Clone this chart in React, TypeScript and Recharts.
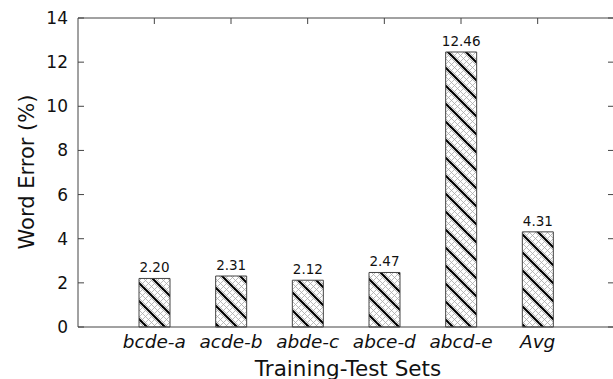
import React from 'react';
import {
  ComposedChart, Bar, Line, XAxis, YAxis, LabelList, Customized,
} from 'recharts';

const sets = ['bcde-a', 'acde-b', 'abde-c', 'abce-d', 'abcd-e', 'Avg'];
const wordError = [2.20, 2.31, 2.12, 2.47, 12.46, 4.31];
const yTicks = [0, 2, 4, 6, 8, 10, 12, 14];

const data = sets.map((name, i) => ({ name, value: wordError[i] }));

const FONT = 'DejaVu Sans, sans-serif';
const AXIS = '#444';
const noLabel = () => '';

// axis titles drawn straight into the svg
const Titles = () => (
  <g fontFamily={FONT} fontSize={21} fill="#111">
    <text x={27} y={172} textAnchor="middle" dominantBaseline="central" transform="rotate(-90 27 172)">
      Word Error (%)
    </text>
    <text x={348} y={376} textAnchor="middle" fontSize={21.5}>Training-Test Sets</text>
  </g>
);

export default function App() {
  return (
    <div style={{ position: 'fixed', left: 0, top: 0, width: 613, height: 379, overflow: 'hidden', background: '#fff' }}>
      <ComposedChart
        width={618}
        height={379}
        data={data}
        margin={{ top: 14, right: 0, bottom: 0, left: 0 }}
      >
        <defs>
          <pattern id="hatch" width={18} height={18} patternUnits="userSpaceOnUse">
            <rect width={18} height={18} fill="#fff" />
            <g stroke="#aaa" strokeWidth={0.8}>
              <line x1={0} y1={3} x2={15} y2={18} />
              <line x1={3} y1={0} x2={18} y2={15} />
              <line x1={0} y1={9} x2={9} y2={18} />
              <line x1={9} y1={0} x2={18} y2={9} />
              <line x1={0} y1={15} x2={3} y2={18} />
              <line x1={15} y1={0} x2={18} y2={3} />
              <line x1={0} y1={6} x2={6} y2={0} />
              <line x1={0} y1={12} x2={12} y2={0} />
              <line x1={0} y1={18} x2={18} y2={0} />
              <line x1={6} y1={18} x2={18} y2={6} />
              <line x1={12} y1={18} x2={18} y2={12} />
            </g>
            <g stroke="#000" strokeWidth={2.2}>
              <line x1={-1} y1={-1} x2={19} y2={19} />
              <line x1={-3} y1={15} x2={3} y2={21} />
              <line x1={15} y1={-3} x2={21} y2={3} />
            </g>
          </pattern>
        </defs>
        <XAxis
          xAxisId="bottom"
          dataKey="name"
          height={52}
          padding={{ left: 38, right: 38 }}
          axisLine={{ stroke: AXIS }}
          tickLine={false}
          tick={{ fontFamily: FONT, fontSize: 18.5, fontStyle: 'italic', fill: '#111' }}
          tickMargin={2}
          interval={0}
        />
        <XAxis
          xAxisId="top"
          orientation="top"
          dataKey="name"
          height={4}
          padding={{ left: 38, right: 38 }}
          axisLine={{ stroke: AXIS }}
          tickLine={{ stroke: AXIS }}
          tickSize={-6}
          tickFormatter={noLabel}
          interval={0}
        />
        <YAxis
          yAxisId="left"
          width={78}
          domain={[0, 14]}
          ticks={yTicks}
          interval={0}
          axisLine={{ stroke: AXIS }}
          tickLine={{ stroke: AXIS }}
          tickSize={-6}
          tickMargin={16}
          tick={{ fontFamily: FONT, fontSize: 17, fill: '#111' }}
        />
        <YAxis
          yAxisId="right"
          orientation="right"
          width={4}
          domain={[0, 14]}
          ticks={yTicks}
          interval={0}
          axisLine={{ stroke: AXIS }}
          tickLine={{ stroke: AXIS }}
          tickSize={-6}
          tickFormatter={noLabel}
        />
        <Bar
          xAxisId="bottom"
          yAxisId="left"
          dataKey="value"
          barSize={31}
          fill="url(#hatch)"
          stroke="#444"
          strokeWidth={1}
          isAnimationActive={false}
        >
          <LabelList
            dataKey="value"
            position="top"
            offset={6}
            formatter={(v: number) => v.toFixed(2)}
            style={{ fontFamily: FONT, fontSize: 13.5, fill: '#111' }}
          />
        </Bar>
        {/* invisible series so the mirrored top/right axes get drawn */}
        <Line
          xAxisId="top"
          yAxisId="right"
          dataKey="value"
          stroke="none"
          dot={false}
          activeDot={false}
          legendType="none"
          isAnimationActive={false}
        />
        <Customized component={Titles} />
      </ComposedChart>
    </div>
  );
}
